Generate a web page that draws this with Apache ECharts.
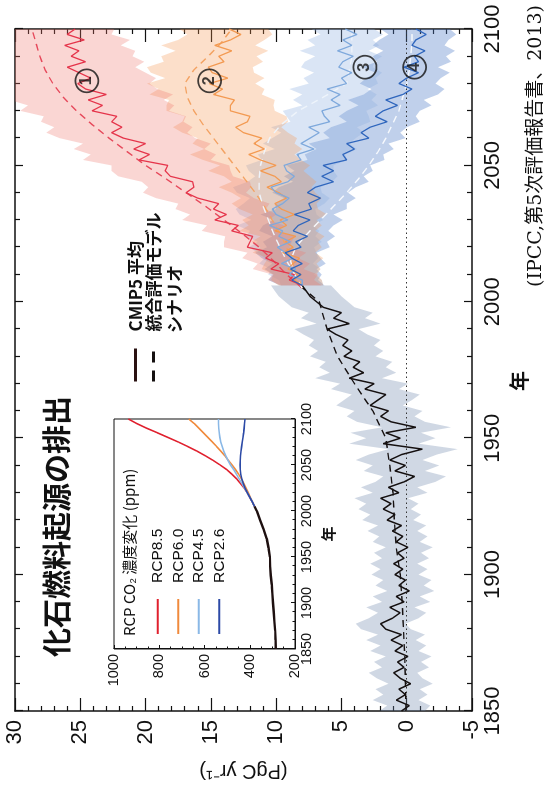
<!DOCTYPE html>
<html>
<head>
<meta charset="utf-8">
<script src="https://cdn.jsdelivr.net/npm/echarts@6/dist/echarts.min.js"></script>
<style>
html,body{margin:0;padding:0;background:#fff;width:545px;height:791px;overflow:hidden;}
/* the figure is laid out landscape and turned a quarter turn counter-clockwise */
#chart{position:absolute;left:0;top:0;width:791px;height:545px;transform-origin:0 0;transform:translate(0,791px) rotate(-90deg);}
</style>
</head>
<body>
<div id="chart"></div>
<script>
// ---- historical period (CMIP5 mean, model spread, inventory emissions) ----
const histYears = [1850,1852,1854,1856,1858,1860,1862,1864,1866,1868,1870,1872,1874,1876,1878,1880,1882,1884,1886,1888,1890,1892,1894,1896,1898,1900,1902,1904,1906,1908,1910,1912,1914,1916,1918,1920,1922,1924,1926,1928,1930,1932,1934,1936,1938,1940,1942,1944,1946,1948,1950,1952,1954,1956,1958,1960,1962,1964,1966,1968,1970,1972,1974,1976,1978,1980,1982,1984,1986,1988,1990,1992,1994,1996,1998,2000,2002,2004,2006];
const histMean = [0.4,-0.2,0.8,0.1,0.6,-0.3,0.5,1.0,0.2,0.7,-0.1,0.9,0.3,1.2,0.4,1.6,2.0,1.1,0.5,1.3,0.2,0.8,-0.2,0.6,0.1,0.9,0.3,1.0,0.2,0.7,-0.1,0.8,0.3,1.1,0.4,1.5,0.9,1.8,1.2,2.0,0.6,1.4,0.2,-0.6,0.9,0.1,1.3,0.4,-1.2,1.8,0.5,1.6,-0.7,1.2,2.0,1.4,2.8,2.2,1.6,3.2,2.5,4.4,3.3,4.1,3.6,4.8,4.2,4.9,4.5,5.4,6.1,4.4,5.6,5.0,6.4,6.9,7.4,7.7,8.0];
const histLow = [-1.4,-1.8,-0.9,-1.6,-1.0,-2.0,-1.2,-0.8,-1.7,-1.1,-1.9,-0.9,-1.5,-0.7,-1.4,-0.3,0.1,-0.9,-1.5,-0.6,-1.8,-1.0,-2.1,-1.3,-1.9,-0.9,-1.6,-0.8,-1.7,-1.1,-2.0,-1.0,-1.6,-0.8,-1.5,-0.5,-1.1,-0.3,-0.9,-0.1,-1.6,-0.8,-2.2,-3.0,-1.4,-2.5,-1.2,-2.3,-3.9,-0.9,-2.2,-1.1,-3.4,-1.4,-0.6,-1.2,0.3,-0.4,-1.0,0.6,-0.1,1.9,0.8,1.6,1.1,2.4,1.8,2.5,2.0,3.0,3.7,2.0,3.2,2.6,4.0,4.5,5.0,5.4,5.8];
const histHigh = [2.1,1.5,2.6,1.8,2.4,1.4,2.3,2.9,1.9,2.5,1.6,2.8,2.0,3.1,2.2,3.5,3.9,2.9,2.2,3.1,1.9,2.6,1.5,2.4,1.8,2.7,2.0,2.8,1.9,2.5,1.6,2.6,2.1,3.0,2.2,3.4,2.8,3.7,3.1,4.0,2.6,3.5,2.4,1.8,3.3,2.6,3.9,2.9,1.4,4.4,3.1,4.3,1.9,3.8,4.6,4.0,5.4,4.8,4.2,5.8,5.1,7.0,5.9,6.7,6.2,7.4,6.8,7.5,7.1,7.9,8.6,6.9,8.1,7.5,8.8,9.3,9.8,10.1,10.4];
const invYears = [1850,1860,1870,1880,1890,1900,1910,1920,1930,1940,1950,1960,1970,1980,1990,2000,2006];
const invEmis = [0.05,0.1,0.15,0.25,0.35,0.5,0.8,0.95,1.05,1.3,1.6,2.6,4.0,5.3,6.1,6.7,8.2];

// ---- RCP period: CMIP5 mean and spread, 2-year steps ----
const rcpYears = [2006,2008,2010,2012,2014,2016,2018,2020,2022,2024,2026,2028,2030,2032,2034,2036,2038,2040,2042,2044,2046,2048,2050,2052,2054,2056,2058,2060,2062,2064,2066,2068,2070,2072,2074,2076,2078,2080,2082,2084,2086,2088,2090,2092,2094,2096,2098,2100];
const rcp85Mean = [8.0,9.0,8.6,10.4,9.8,10.8,10.3,12.2,12.0,11.8,13.4,12.9,14.7,13.8,14.8,14.4,16.0,16.9,16.3,16.4,18.1,18.5,18.3,20.5,19.7,20.9,20.0,21.7,22.6,21.8,22.6,22.2,24.1,23.3,24.4,23.0,24.6,25.2,24.2,25.1,26.0,24.6,25.7,25.1,26.2,24.7,26.0,25.4];
const rcp85Low = [6.5,7.1,6.8,7.9,7.4,8.3,7.7,9.0,8.8,8.6,9.9,9.4,10.6,10.0,10.8,10.5,11.7,12.3,11.9,12.0,13.3,13.5,13.6,15.0,14.6,15.5,15.0,16.2,16.8,16.4,17.1,16.9,18.2,17.8,18.6,17.9,19.1,19.7,19.2,20.0,20.8,20.1,21.0,20.8,21.9,21.2,22.6,22.4];
const rcp85High = [9.6,10.6,10.3,11.8,11.4,12.6,12.2,14.0,14.0,13.9,15.7,15.3,17.2,16.6,17.7,17.5,19.2,20.2,19.8,20.3,22.1,22.6,22.6,24.8,24.2,25.5,24.8,26.6,27.6,27.0,28.0,27.8,29.6,29.0,30.4,30.5,31,31,31,31,31,31,31,31,31,31,31,31];
const rcp60Mean = [8.0,8.6,8.1,9.1,8.7,8.2,9.5,8.7,9.3,8.5,10.1,9.2,9.7,8.6,9.6,10.1,9.2,9.8,10.7,9.6,10.1,11.2,10.0,11.2,12.1,10.9,11.7,11.1,12.5,13.1,12.2,12.0,13.5,13.5,13.2,14.8,14.1,15.1,13.7,14.9,15.2,14.0,14.4,13.4,14.7,13.5,12.7,13.6];
const rcp60Low = [6.4,6.5,6.9,6.6,6.9,6.4,7.0,6.5,6.8,6.3,7.0,6.5,6.9,6.1,6.8,6.9,6.5,7.0,7.3,6.9,7.4,7.9,7.4,8.1,8.6,8.0,8.6,8.4,9.1,9.6,9.1,9.2,10.1,10.2,10.1,11.1,10.9,11.6,10.9,11.7,11.8,11.0,11.5,10.6,11.6,10.9,10.3,10.6];
const rcp60High = [9.8,10.4,10.2,11.1,10.9,10.6,11.8,11.2,11.9,11.2,12.8,12.1,12.6,11.8,12.8,13.4,12.7,13.4,14.4,13.4,14.0,15.2,14.3,15.6,16.6,15.5,16.4,16.0,17.2,17.9,17.2,17.0,18.4,18.4,18.2,19.7,19.0,19.9,18.5,19.6,19.9,18.6,18.8,17.7,18.8,17.5,16.8,17.4];
const rcp45Mean = [8.0,8.0,9.0,8.5,9.6,8.7,9.3,9.9,8.9,9.8,9.5,10.5,9.1,10.0,10.3,9.5,9.0,10.0,10.4,9.1,8.6,9.2,9.4,8.1,8.4,7.1,8.1,7.4,6.7,7.5,5.9,6.3,6.5,5.1,5.8,5.1,6.1,4.6,5.0,4.2,5.2,4.9,4.1,5.3,4.2,4.9,3.8,4.7];
const rcp45Low = [6.4,6.5,7.1,6.6,7.2,6.8,6.9,7.1,6.5,7.0,6.7,7.2,6.4,6.9,7.0,6.3,5.9,6.5,6.6,5.7,5.3,5.6,5.6,4.6,4.7,3.8,4.4,3.9,3.3,3.8,2.8,2.9,3.1,2.2,2.7,2.3,3.0,2.2,2.4,1.9,2.6,2.5,1.9,2.9,2.1,2.6,1.8,2.5];
const rcp45High = [9.6,9.8,10.6,10.4,11.3,10.9,11.4,12.1,11.4,12.3,12.0,13.0,11.9,12.8,13.1,12.5,12.0,13.0,13.3,12.2,11.6,12.1,12.3,11.1,11.4,10.1,11.0,10.3,9.6,10.4,8.9,9.2,9.5,8.0,8.7,8.0,9.0,7.5,7.9,7.1,8.1,7.8,7.0,8.2,7.0,7.6,6.6,7.3];
const rcp26Mean = [8.0,8.8,8.1,8.9,8.0,8.8,9.3,8.1,8.5,7.6,8.7,8.3,7.4,8.6,7.3,7.5,6.6,7.6,7.0,5.6,6.5,5.6,6.4,4.6,4.9,4.0,4.6,2.9,3.5,2.8,1.5,2.4,1.8,0.7,1.6,0.3,-0.4,0.6,0.0,-0.9,0.2,-0.9,-0.6,-1.4,-0.4,-0.7,-1.5,-0.7];
const rcp26Low = [6.3,6.8,6.5,6.9,6.2,6.6,6.9,5.9,6.1,5.5,6.0,5.6,4.9,5.6,4.6,4.6,3.9,4.5,3.9,2.9,3.3,2.6,2.8,1.7,1.8,1.0,1.4,0.1,0.5,0.0,-1.0,-0.7,-1.0,-1.9,-1.3,-2.4,-2.9,-2.2,-2.6,-3.3,-2.4,-3.4,-3.0,-3.7,-2.9,-3.2,-3.8,-3.3];
const rcp26High = [9.7,10.6,10.2,10.9,10.3,11.1,11.6,10.7,11.0,10.3,11.3,11.0,10.2,11.2,10.0,10.1,9.4,10.3,9.8,8.7,9.4,8.6,9.2,7.6,7.8,6.9,7.5,5.9,6.4,5.8,4.6,5.2,4.6,3.7,4.5,3.3,2.7,3.6,3.1,2.4,3.4,2.3,2.6,1.8,2.6,2.1,1.4,2.0];

// ---- integrated assessment model scenarios, 5-year steps ----
const iamYears = [2005,2010,2015,2020,2025,2030,2035,2040,2045,2050,2055,2060,2065,2070,2075,2080,2085,2090,2095,2100];
const iam85 = [8.0,9.2,10.2,11.3,12.6,14.0,15.4,16.9,18.4,20.0,21.4,22.8,24.1,25.3,26.3,27.1,27.7,28.1,28.4,28.7];
const iam60 = [8.0,8.4,8.8,9.2,9.7,10.3,10.9,11.6,12.4,13.2,14.0,14.8,15.6,16.3,16.8,17.0,16.3,15.2,14.2,13.4];
const iam45 = [8.0,8.6,9.2,9.7,10.2,10.6,11.0,11.3,11.3,11.2,10.9,10.5,9.6,8.3,6.4,4.6,4.4,4.2,4.2,4.2];
const iam26 = [8.0,8.6,8.9,8.5,7.6,6.6,5.6,4.6,3.7,2.9,2.2,1.6,1.1,0.6,0.3,0.0,-0.2,-0.3,-0.4,-0.4];

// ---- scenario tags ----
const tagYears = [2081,2081,2086,2086];
const tagValues = [24.5,15.1,3.2,-0.6];
const tagTexts = ['1','2','3','4'];

// ---- inset: CO2 concentration (ppm) ----
const concHistYears = [1850,1860,1870,1880,1890,1900,1910,1920,1930,1940,1950,1960,1970,1980,1990,2000,2005];
const concHist = [285,286,288,291,294,297,300,303,307,310,311,317,325,339,354,369,379];
const concYears = [2005,2010,2015,2020,2025,2030,2035,2040,2045,2050,2055,2060,2065,2070,2075,2080,2085,2090,2095,2100];
const conc85 = [379,389,400,411,425,441,458,479,502,531,562,596,633,673,716,762,808,856,899,936];
const conc60 = [379,389,398,407,416,426,437,449,463,478,494,510,528,546,565,585,605,625,645,670];
const conc45 = [379,389,400,411,423,435,447,459,471,485,496,506,515,522,528,532,535,537,538,538];
const conc26 = [379,389,400,411,421,429,435,440,442,443,442,441,439,436,433,430,427,425,423,421];

const SANS = "'Liberation Sans','Noto Sans CJK JP',sans-serif";
const JP = "'Noto Sans CJK JP','Liberation Sans',sans-serif";
const CLEAR = 'rgba(0,0,0,0)';

function pairs(xs, ys) { return xs.map((x, i) => [x, ys[i]]); }

function band(name, xs, lo, hi, fill) {
  return {
    type: 'custom', name: name, xAxisIndex: 0, yAxisIndex: 0, silent: true, clip: true, z: 1,
    data: [[xs[0], lo[0]]],
    renderItem: function (params, api) {
      const upper = xs.map((x, i) => api.coord([x, hi[i]]));
      const lower = xs.map((x, i) => api.coord([x, lo[i]])).reverse();
      return { type: 'polygon', shape: { points: upper.concat(lower) }, style: { fill: fill } };
    }
  };
}

// itemStyle is left transparent so legend entries show only the line
function line(name, xs, ys, color, width, dash, z, inset) {
  const ax = inset ? 2 : 0;
  return {
    type: 'line', name: name, xAxisIndex: ax, yAxisIndex: ax, data: pairs(xs, ys),
    symbol: 'circle', symbolSize: 0, showSymbol: false, silent: true, clip: true, z: z || 3,
    lineStyle: { color: color, width: width, type: dash || 'solid' },
    itemStyle: { color: CLEAR }
  };
}

const C = {
  r: '#e5354b', o: '#f39a52', lb: '#7fa9dc', b: '#2f66bd',
  rIam: '#e6495b', oIam: '#f3a262', lbIam: '#eef4fb', bIam: '#f6f9fd'
};

const series = [
  band('hist band', histYears, histLow, histHigh, 'rgba(110,135,170,0.32)'),
  band('rcp26 band', rcpYears, rcp26Low, rcp26High, 'rgba(80,125,200,0.36)'),
  band('rcp45 band', rcpYears, rcp45Low, rcp45High, 'rgba(140,175,225,0.32)'),
  band('rcp60 band', rcpYears, rcp60Low, rcp60High, 'rgba(245,150,80,0.30)'),
  band('rcp85 band', rcpYears, rcp85Low, rcp85High, 'rgba(240,120,110,0.30)'),
  Object.assign(line('CMIP5 平均', histYears, histMean, '#151010', 1.5, null, 5), {
    markLine: {
      silent: true, symbol: 'none', label: { show: false },
      lineStyle: { color: '#333', width: 1, type: [1.5, 3] },
      data: [{ yAxis: 0 }]
    }
  }),
  line('統合評価モデル', invYears, invEmis, '#151010', 1.4, [7, 5], 4),
  line('IAM 8.5', iamYears, iam85, C.rIam, 1.4, [7, 5], 4),
  line('IAM 6.0', iamYears, iam60, C.oIam, 1.4, [7, 5], 4),
  line('IAM 4.5', iamYears, iam45, C.lbIam, 1.4, [7, 5], 4),
  line('IAM 2.6', iamYears, iam26, C.bIam, 1.4, [7, 5], 4),
  line('CMIP5 8.5', rcpYears, rcp85Mean, C.r, 1.3, null, 5),
  line('CMIP5 6.0', rcpYears, rcp60Mean, C.o, 1.3, null, 5),
  line('CMIP5 4.5', rcpYears, rcp45Mean, C.lb, 1.3, null, 5),
  line('CMIP5 2.6', rcpYears, rcp26Mean, C.b, 1.3, null, 5),
  {
    type: 'scatter', name: 'tags', xAxisIndex: 0, yAxisIndex: 0, silent: true, z: 8,
    data: tagYears.map((y, i) => [y, tagValues[i], tagTexts[i]]),
    symbol: 'circle', symbolSize: 23,
    itemStyle: { color: CLEAR, borderColor: '#111', borderWidth: 1.7 },
    label: { show: true, position: 'inside', formatter: p => p.data[2], fontSize: 16, fontWeight: 'bold', color: '#111', fontFamily: SANS }
  },
  // inset: concentration pathways
  line('hist conc', concHistYears, concHist, '#1e1010', 2.4, null, 6, true),
  line('RCP8.5', concYears, conc85, '#e0202e', 1.6, null, 5, true),
  line('RCP6.0', concYears, conc60, '#f08a3c', 1.6, null, 5, true),
  line('RCP4.5', concYears, conc45, '#8ab8e6', 1.6, null, 5, true),
  line('RCP2.6', concYears, conc26, '#2c4aa6', 1.6, null, 5, true)
];

const axisLine = { show: true, onZero: false, lineStyle: { color: '#111', width: 1.5 } };
const tick = (len) => ({ show: true, inside: true, length: len, lineStyle: { color: '#111', width: 1.2 } });

const option = {
  animation: false,
  backgroundColor: '#fff',
  textStyle: { fontFamily: SANS },
  title: [
    { text: '化石燃料起源の排出', left: 134, top: 42, padding: 0,
      textStyle: { fontSize: 29, fontWeight: 'bold', color: '#111', fontFamily: JP } },
    { text: 'RCP CO₂ 濃度変化 (ppm)', left: 155, top: 122, padding: 0,
      textStyle: { fontSize: 15, fontWeight: 'normal', color: '#111', fontFamily: JP } },
    { text: 'シナリオ', left: 458, top: 166, padding: 0,
      textStyle: { fontSize: 17, fontWeight: 'bold', color: '#111', fontFamily: JP } },
    { text: '(IPCC,第5次評価報告書、2013)', right: 5, top: 527, padding: 0,
      textStyle: { fontSize: 19, fontWeight: 'normal', color: '#111', fontFamily: "'DejaVu Serif','Noto Sans CJK JP',serif" } }
  ],
  legend: [
    { data: [
        { name: 'CMIP5 平均', lineStyle: { width: 3, color: '#2a1212' } },
        { name: '統合評価モデル', lineStyle: { width: 3, type: [11, 8], color: '#151010' } }
      ],
      orient: 'vertical', left: 408, top: 127, padding: 0, itemGap: 1,
      itemWidth: 33, itemHeight: 18, selectedMode: false,
      textStyle: { fontSize: 17, fontWeight: 'bold', color: '#111', fontFamily: JP, padding: [0, 0, 0, 12] } },
    { data: ['RCP8.5', 'RCP6.0', 'RCP4.5', 'RCP2.6'],
      orient: 'vertical', left: 156, top: 150, padding: 0, itemGap: 5,
      itemWidth: 35, itemHeight: 16, selectedMode: false,
      textStyle: { fontSize: 15.5, color: '#111', fontFamily: SANS, padding: [0, 0, 0, 11] } }
  ],
  grid: [
    { left: 80, right: 29, top: 15, bottom: 73, containLabel: false },
    { left: 142, top: 114, width: 230, height: 181, containLabel: false,
      show: true, borderColor: '#111', borderWidth: 1 }
  ],
  xAxis: [
    { type: 'value', gridIndex: 0, min: 1850, max: 2100, interval: 50, position: 'bottom',
      axisLine: axisLine, axisTick: tick(8),
      minorTick: { show: true, splitNumber: 5, length: 5, lineStyle: { color: '#111', width: 1.2 } },
      splitLine: { show: false },
      axisLabel: { fontSize: 22, color: '#111', margin: 10, fontFamily: SANS, formatter: v => String(v) },
      name: '年', nameLocation: 'middle', nameGap: 37,
      nameTextStyle: { fontSize: 20, fontWeight: 'bold', color: '#111', fontFamily: JP, padding: [0, 22, 0, 0] } },
    { type: 'value', gridIndex: 0, min: 1850, max: 2100, interval: 50, position: 'top',
      axisLine: axisLine, axisTick: tick(8),
      minorTick: { show: true, splitNumber: 5, length: 5, lineStyle: { color: '#111', width: 1.2 } },
      splitLine: { show: false }, axisLabel: { show: false } },
    { type: 'value', gridIndex: 1, min: 1850, max: 2100, interval: 50, position: 'bottom',
      axisLine: { show: true, onZero: false, lineStyle: { color: '#111', width: 1 } },
      axisTick: { show: true, inside: true, length: 4, lineStyle: { color: '#111' } },
      minorTick: { show: true, splitNumber: 5, length: 2.5, lineStyle: { color: '#111' } },
      splitLine: { show: false },
      axisLabel: { fontSize: 14.5, color: '#111', margin: 5, fontFamily: SANS, formatter: v => String(v) },
      name: '年', nameLocation: 'middle', nameGap: 26,
      nameTextStyle: { fontSize: 15, fontWeight: 'bold', color: '#111', fontFamily: JP } }
  ],
  yAxis: [
    { type: 'value', gridIndex: 0, min: -5, max: 30, interval: 5, position: 'left',
      axisLine: axisLine, axisTick: tick(13),
      minorTick: { show: true, splitNumber: 5, length: 5, lineStyle: { color: '#111', width: 1.2 } },
      splitLine: { show: false },
      axisLabel: { fontSize: 22, color: '#111', margin: 9, fontFamily: SANS },
      name: '(PgC yr⁻¹)', nameLocation: 'middle', nameGap: 50,
      nameTextStyle: { fontSize: 20, color: '#111', fontFamily: SANS } },
    { type: 'value', gridIndex: 0, min: -5, max: 30, interval: 5, position: 'right',
      axisLine: axisLine, axisTick: tick(13),
      minorTick: { show: true, splitNumber: 5, length: 5, lineStyle: { color: '#111', width: 1.2 } },
      splitLine: { show: false }, axisLabel: { show: false } },
    { type: 'value', gridIndex: 1, min: 200, max: 1000, interval: 200, position: 'left',
      axisLine: { show: true, onZero: false, lineStyle: { color: '#111', width: 1 } },
      axisTick: { show: true, inside: true, length: 4, lineStyle: { color: '#111' } },
      minorTick: { show: true, splitNumber: 4, length: 2.5, lineStyle: { color: '#111' } },
      splitLine: { show: false },
      axisLabel: { fontSize: 14.5, color: '#111', margin: 5, fontFamily: SANS, formatter: v => String(v) } }
  ],
  series: series
};

const chart = echarts.init(document.getElementById('chart'), null, { renderer: 'canvas' });
chart.setOption(option);
</script>
</body>
</html>
